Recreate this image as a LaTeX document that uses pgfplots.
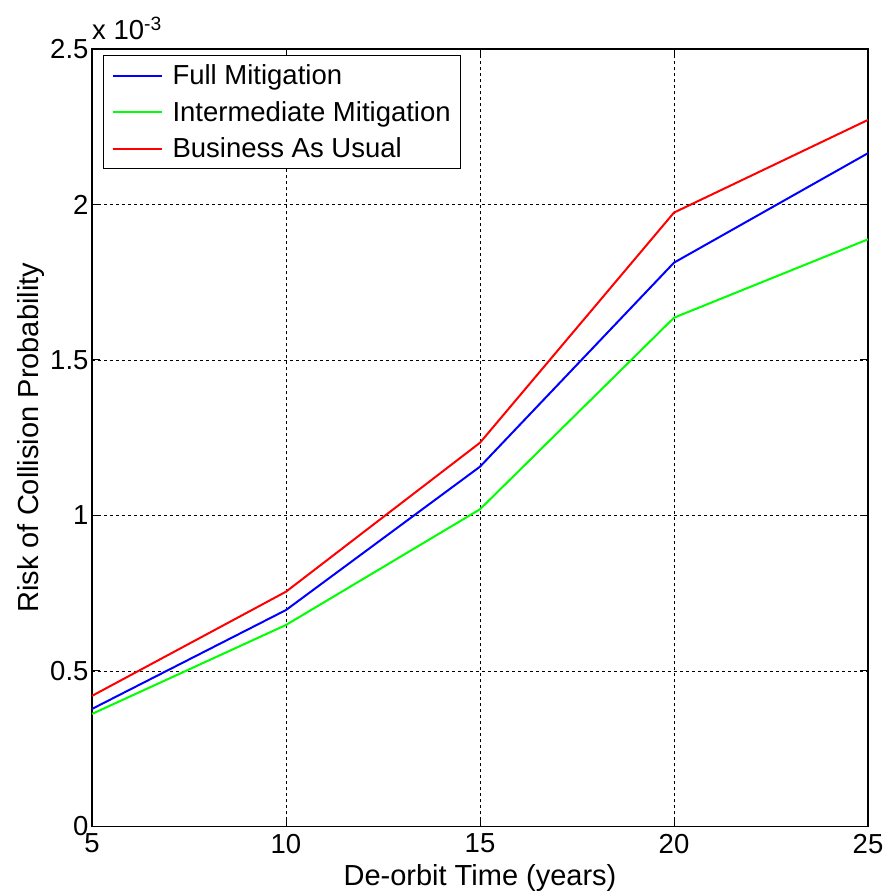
\documentclass[border=0pt]{standalone}
\usepackage{fontspec}
\setmainfont{Liberation Sans}
\usepackage{pgfplots}
\pgfplotsset{compat=1.18}
\begin{document}
\begin{tikzpicture}
\begin{axis}[
  scale only axis, width=776pt, height=777.5pt,
  xmin=5, xmax=25, ymin=0, ymax=2.5,
  xtick={5,10,15,20,25}, ytick={0,0.5,1,1.5,2,2.5},
  scaled ticks=false,
  font=\fontsize{29}{34}\selectfont,
  tick label style={font=\fontsize{27.5}{33}\selectfont},
  xticklabel style={yshift=-4pt},
  /pgf/number format/assume math mode=true,
  tick align=inside, major tick length=8pt,
  tick style={black, line width=1pt},
  grid=major,
  grid style={black, dash pattern=on 3pt off 3pt, line width=0.8pt},
  axis line style={black, line width=1.2pt},
  xlabel={De-orbit Time (years)},
  ylabel={Risk of Collision Probability},
  every axis x label/.style={at={(axis description cs:0.5,-0.0665)}, anchor=center},
  every axis y label/.style={at={(axis description cs:-0.079,0.5)}, rotate=90, anchor=center},
  legend style={at={(0.0142,0.9923)}, anchor=north west, draw=black, line width=1pt,
    font=\fontsize{27.5}{33}\selectfont, cells={anchor=west}, row sep=11pt, inner xsep=8pt, inner ysep=7.5pt},
  legend image code/.code={\draw[#1, line width=2pt] (3pt,0pt) -- (52pt,0pt); \path (60pt,0pt);},
]
\addplot[blue, line width=2pt] coordinates {(5,0.378) (10,0.696) (15,1.157) (20,1.813) (25,2.165)};
\addlegendentry{Full Mitigation}
\addplot[green, line width=2pt] coordinates {(5,0.362) (10,0.648) (15,1.020) (20,1.636) (25,1.888)};
\addlegendentry{Intermediate Mitigation}
\addplot[red, line width=2pt] coordinates {(5,0.420) (10,0.755) (15,1.234) (20,1.974) (25,2.272)};
\addlegendentry{Business As Usual}
\end{axis}
\node[anchor=base west, inner sep=0pt, font=\fontsize{27.5}{33}\selectfont] at ([yshift=9pt]current axis.north west) {x 10\textsuperscript{-3}};
\pgfresetboundingbox
\useasboundingbox ([xshift=-92pt,yshift=-68.5pt]current axis.south west) rectangle ([xshift=17pt,yshift=49pt]current axis.north east);
\end{tikzpicture}
\end{document}
